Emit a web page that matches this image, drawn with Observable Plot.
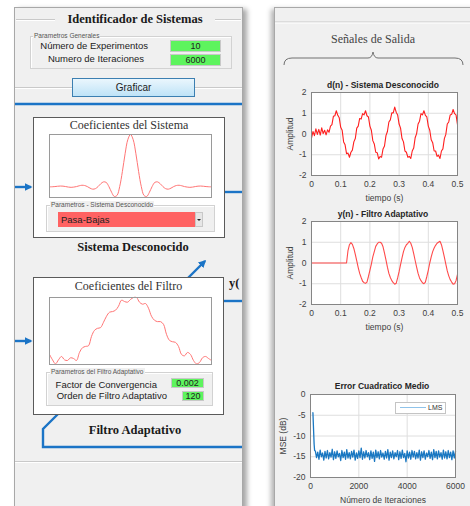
<!DOCTYPE html>
<html><head><meta charset="utf-8">
<script src="https://cdn.jsdelivr.net/npm/d3@7"></script>
<script src="https://cdn.jsdelivr.net/npm/@observablehq/plot@0.6"></script>
<style>
body{margin:0;width:470px;height:506px;overflow:hidden;background:#fff;position:relative;font-family:"Liberation Sans",Arial,sans-serif;color:#222}
.abs{position:absolute}
.serif{font-family:"Liberation Serif","Times New Roman",serif}
.panel{position:absolute;background:#f0f0f0;border:1px solid #a8a8a8;box-sizing:border-box}
.hline{position:absolute;height:1px;background:#c9c9c9;border-bottom:1px solid #fff}
.group{position:absolute;border:1px solid #d2d2d2;box-shadow:inset 1px 1px 0 #fff;box-sizing:border-box}
.glabel{position:absolute;font-size:6.5px;color:#555;background:#f0f0f0;padding:0 1px;line-height:7px}
.lbl{position:absolute;font-size:9.5px;line-height:11px;white-space:nowrap;color:#222}
.green{position:absolute;background:#5ef45e;border:1px solid #c8c8c8;box-sizing:border-box;font-size:9px;text-align:center;color:#222}
.box{position:absolute;background:#fff;border:1.5px solid #5a5a5a;box-sizing:border-box}
.ctitle{position:absolute;font-size:8.5px;font-weight:bold;text-align:center;color:#262626;white-space:nowrap;line-height:10px}
.plotwrap{position:absolute}
</style></head><body>

<!-- panels -->
<div class="panel" style="left:14px;top:7px;width:229px;height:520px;box-shadow:4px 2px 5px rgba(0,0,0,0.35)"></div>
<div class="panel" style="left:274px;top:7px;width:210px;height:520px;box-shadow:-3px 2px 5px rgba(0,0,0,0.3)"></div>

<!-- left panel header -->
<div class="hline" style="left:16px;top:19px;width:225px"></div>
<div class="abs serif" style="left:55px;top:11px;width:160px;text-align:center;font-size:12.5px;font-weight:bold;background:#f0f0f0;line-height:16px;color:#1a1a1a">Identificador de Sistemas</div>

<div class="group" style="left:30px;top:36px;width:202px;height:33px"></div>
<div class="glabel" style="left:33px;top:32px">Parametros Generales</div>
<div class="lbl" style="left:30px;top:40px;width:118px;text-align:right">Número de Experimentos</div>
<div class="green" style="left:170px;top:40px;width:51px;height:12px;line-height:11px">10</div>
<div class="lbl" style="left:30px;top:53px;width:114px;text-align:right">Numero de Iteraciones</div>
<div class="green" style="left:170px;top:54px;width:51px;height:12px;line-height:11px">6000</div>

<div class="hline" style="left:15px;top:87px;width:227px"></div>
<div class="abs" style="left:72px;top:78px;width:123px;height:19px;box-sizing:border-box;border:1px solid #3c7fb1;background:linear-gradient(#eaf6fd,#bfe3f7);font-size:10px;text-align:center;line-height:17px;color:#222">Graficar</div>

<!-- diagram lines -->
<svg class="abs" style="left:0;top:0" width="470" height="506">
 <defs><marker id="ah" viewBox="0 0 10 10" refX="8" refY="5" markerWidth="3.2" markerHeight="3.2" orient="auto"><path d="M0,0L10,5L0,10z" fill="#1b74c6"/></marker></defs>
 <g stroke="#1b74c6" fill="none" stroke-width="2.4">
  <line x1="15" y1="104" x2="242" y2="104"/>
  <line x1="15" y1="187" x2="31" y2="187" marker-end="url(#ah)"/>
  <line x1="224" y1="192" x2="242" y2="192"/>
  <line x1="188" y1="278" x2="205" y2="261" marker-end="url(#ah)"/>
  <line x1="223" y1="301" x2="242" y2="301"/>
  <line x1="15" y1="341" x2="31" y2="341" marker-end="url(#ah)"/>
  <polyline points="58,414 43,429 43,447 242,447"/>
 </g>
 <path d="M284,65 Q284,58 292,58 L368,58 Q372,58 373,52 Q374,58 378,58 L455,58 Q463,58 463,65" stroke="#707070" stroke-width="1" fill="none"/>
 <line x1="275" y1="22" x2="470" y2="22" stroke="#c9c9c9"/>
 <line x1="275" y1="23" x2="470" y2="23" stroke="#fff"/>
</svg>

<!-- Sistema box -->
<div class="box" style="left:33px;top:117px;width:192px;height:121px"></div>
<div class="abs serif" style="left:33px;top:118px;width:192px;text-align:center;font-size:12px;color:#333;line-height:15px">Coeficientes del Sistema</div>
<div id="sysplot" class="plotwrap" style="left:49px;top:134px"></div>
<div class="group" style="left:46px;top:205px;width:169px;height:27px;background:#f0f0f0"></div>
<div class="glabel" style="left:50px;top:201px">Parametros - Sistema Desconocido</div>
<div class="abs" style="left:58px;top:212px;width:137px;height:15px;background:#ff6262;font-size:9.5px;line-height:15px;padding-left:3px;box-sizing:border-box;color:#222">Pasa-Bajas</div>
<div class="abs" style="left:195px;top:212px;width:8px;height:15px;background:#e6e6e6;border:1px solid #c8c8c8;box-sizing:border-box"></div>
<div class="abs" style="left:197px;top:219px;width:0;height:0;border-left:2px solid transparent;border-right:2px solid transparent;border-top:2px solid #222"></div>
<div class="abs serif" style="left:33px;top:239px;width:200px;text-align:center;font-size:12.5px;font-weight:bold;line-height:16px;color:#1a1a1a">Sistema Desconocido</div>

<div class="abs serif" style="left:229px;top:275px;font-size:12.5px;font-weight:bold;line-height:16px;white-space:nowrap;color:#1a1a1a">y(</div>

<!-- Filtro box -->
<div class="box" style="left:33px;top:277px;width:191px;height:138px"></div>
<div class="abs serif" style="left:33px;top:279px;width:191px;text-align:center;font-size:12px;color:#333;line-height:15px">Coeficientes del Filtro</div>
<div id="filplot" class="plotwrap" style="left:49px;top:297px"></div>
<div class="group" style="left:46px;top:372px;width:167px;height:34px;background:#f0f0f0"></div>
<div class="glabel" style="left:50px;top:368px">Parametros del Filtro Adaptativo</div>
<div class="lbl" style="left:40px;top:379px;width:117px;text-align:right">Factor de Convergencia</div>
<div class="green" style="left:171px;top:378px;width:33px;height:10px;line-height:9px">0.002</div>
<div class="lbl" style="left:40px;top:390px;width:127px;text-align:right">Orden de Filtro Adaptativo</div>
<div class="green" style="left:182px;top:391px;width:22px;height:10px;line-height:9px">120</div>
<div class="abs serif" style="left:35px;top:422px;width:200px;text-align:center;font-size:12.5px;font-weight:bold;line-height:16px;color:#1a1a1a">Filtro Adaptativo</div>
<div class="hline" style="left:15px;top:461px;width:227px"></div>

<!-- right panel -->
<div class="abs serif" style="left:274px;top:32px;width:198px;text-align:center;font-size:12px;color:#444;line-height:15px">Señales de Salida</div>
<div class="ctitle" style="left:300px;top:80px;width:166px">d(n) - Sistema Desconocido</div>
<div id="dplot" class="plotwrap" style="left:274px;top:78px"></div>
<div class="ctitle" style="left:300px;top:209px;width:166px">y(n) - Filtro Adaptativo</div>
<div id="yplot" class="plotwrap" style="left:274px;top:207px"></div>
<div class="ctitle" style="left:300px;top:381px;width:164px">Error Cuadratico Medio</div>
<div id="mseplot" class="plotwrap" style="left:274px;top:380px"></div>
<div class="abs" style="left:395px;top:402px;width:51px;height:12px;background:#fff;border:1px solid #c4c4c4;box-sizing:border-box"></div>
<div class="abs" style="left:400px;top:407px;width:26px;height:1px;background:#8fc3ea"></div>
<div class="abs" style="left:428px;top:403px;font-size:7px;line-height:10px;color:#333">LMS</div>

<script>
// ---------- data ----------
const sysCoef = [-0.005,-0.004,0,0.006,0.01,0.008,0,-0.01,-0.015,-0.01,
  0,0.015,0.025,0.02,0,-0.03,-0.05,-0.04,0,0.055,
  0.09,0.08,0,-0.11,-0.19,-0.17,0,0.29,0.63,0.90,
  1.0,
  0.90,0.63,0.29,0,-0.17,-0.19,-0.11,0,0.08,0.09,
  0.055,0,-0.04,-0.05,-0.03,0,0.02,0.025,0.015,0,
  -0.01,-0.015,-0.01,0,0.008,0.01,0.006,0,-0.004,-0.005];

const filCoef = [0.15,0.07,0.01,0.07,0.12,0.07,0.06,0.10,0.09,0.06,
  0.18,0.25,0.27,0.28,0.42,0.51,0.54,0.55,0.63,0.72,
  0.78,0.79,0.81,0.87,0.96,0.94,0.93,0.97,1.00,1.00,
  0.93,0.90,0.91,0.84,0.72,0.66,0.64,0.64,0.60,0.45,
  0.36,0.34,0.33,0.27,0.15,0.13,0.18,0.15,0.06,0.01,
  0.03,0.10,0.12,0.09,0.06];

const dt = 0.005; // s between samples
const dSignal = [-0.2,0.12,-0.08,0.25,-0.02,0.22,-0.05,0.3,0.02,0.18,
  -0.04,0.2,0.08,0.38,0.45,0.85,0.88,1.12,0.9,0.78,
  0.32,0.18,-0.38,-0.52,-0.95,-0.92,-1.12,-0.88,-0.78,-0.38,
  -0.22,0.28,0.38,0.75,0.72,0.98,0.92,1.12,0.88,0.82,
  0.38,0.18,-0.32,-0.48,-0.88,-0.9,-1.2,-1.08,-1.12,-0.72,
  -0.58,-0.08,0.12,0.58,0.68,1.02,1.02,1.3,1.05,0.92,
  0.48,0.28,-0.22,-0.38,-0.82,-0.88,-1.12,-1.08,-1.18,-0.82,
  -0.68,-0.18,0.02,0.48,0.62,0.98,0.92,1.12,0.9,0.82,
  0.38,0.18,-0.28,-0.42,-0.82,-0.82,-1.08,-1.02,-1.18,-0.82,
  -0.72,-0.22,-0.02,0.48,0.58,0.92,0.95,1.18,0.98,0.92,
  0.45];

const ySignal = [0,0,0,0,0,0,0,0,0,0,
  0,0,0,0,0,0,0,0,0,0,
  0,0,0,0,0,0.6,0.88,0.98,0.9,0.7,
  0.42,0.1,-0.22,-0.5,-0.7,-0.88,-0.95,-0.98,-0.92,-0.65,
  -0.35,-0.05,0.3,0.55,0.8,0.92,1.0,1.0,0.95,0.78,
  0.48,0.15,-0.2,-0.5,-0.7,-0.85,-0.95,-1.02,-0.98,-0.72,
  -0.42,-0.08,0.25,0.55,0.75,0.88,0.95,1.05,0.95,0.75,
  0.45,0.12,-0.2,-0.5,-0.72,-0.85,-0.95,-1.0,-0.92,-0.65,
  -0.35,0.0,0.3,0.55,0.72,0.85,0.95,1.0,1.05,0.88,
  0.6,0.28,-0.05,-0.38,-0.62,-0.8,-0.92,-1.02,-1.0,-0.85,
  -0.55];

const mseIterHead = [100,130,150,170];
const mseHead = [-4.4,-9.0,-12.0,-13.5];
const mseStart = 200, mseStep = 50;
const mseBand = [-13.6,-15.2,-13.9,-15.6,-13.4,-15.0,-14.1,-15.8,-13.7,-15.3,
  -13.5,-15.5,-14.0,-15.1,-13.2,-15.7,-13.8,-15.4,-13.6,-15.0,
  -14.2,-15.9,-13.5,-15.2,-13.9,-15.6,-13.3,-15.3,-14.0,-15.5,
  -13.7,-15.1,-13.4,-15.8,-14.1,-15.4,-13.6,-15.2,-12.9,-15.6,
  -13.8,-15.3,-13.5,-15.0,-14.0,-15.7,-13.6,-15.4,-13.9,-16.1,
  -13.4,-15.2,-13.8,-15.5,-13.5,-15.1,-14.1,-15.6,-13.7,-15.3,
  -13.3,-15.8,-13.9,-15.2,-13.6,-15.5,-14.0,-15.0,-13.5,-15.7,
  -13.8,-15.4,-13.4,-15.2,-14.2,-16.2,-13.6,-15.3,-13.9,-15.6,
  -13.5,-15.1,-13.7,-15.5,-14.0,-15.3,-13.4,-15.8,-13.8,-15.2,
  -13.6,-15.6,-14.1,-15.0,-13.5,-15.4,-13.9,-15.7,-13.3,-15.2,
  -13.7,-15.5,-13.6,-15.1,-14.0,-15.6,-13.4,-15.3,-13.8,-15.5,
  -13.5,-15.2,-13.9,-15.7,-13.6,-15.3,-13.7];

const tTicks = [0,0.1,0.2,0.3,0.4,0.5];
const ampTicks = [-2,-1,0,1,2];
const iterTicks = [0,2000,4000,6000];
const mseTicks = [-20,-15,-10,-5,0];

// ---------- charts ----------
const font = "Liberation Sans, Arial, sans-serif";
const st = {fontFamily: font, fontSize: "8.5px", color: "#404040", background: "transparent", overflow: "visible"};

function coefPlot(vals, ydom, h) {
  const data = vals.map((v, i) => ({i, v}));
  return Plot.plot({
    width: 162, height: h, margin: 0,
    style: {background: "white", overflow: "visible"},
    x: {domain: [0, vals.length - 1], axis: null},
    y: {domain: ydom, axis: null},
    marks: [
      Plot.line(data, {x: "i", y: "v", stroke: "#ff7575", strokeWidth: 1, curve: "catmull-rom"}),
      Plot.frame({stroke: "#9a9a9a"})
    ]
  });
}
document.getElementById("sysplot").appendChild(coefPlot(sysCoef, [-0.21, 1.0], 63));
document.getElementById("filplot").appendChild(coefPlot(filCoef, [0, 1.0], 67));

function sigPlot(vals, color) {
  const data = vals.map((v, i) => ({t: i * dt, v}));
  return Plot.plot({
    width: 196, height: 127, marginLeft: 37, marginRight: 13, marginTop: 14, marginBottom: 30,
    style: st,
    x: {domain: [0, 0.5]},
    y: {domain: [-2, 2]},
    marks: [
      Plot.frame({fill: "white"}),
      Plot.gridX(tTicks, {stroke: "#dedede", strokeOpacity: 1}),
      Plot.gridY(ampTicks, {stroke: "#dedede", strokeOpacity: 1}),
      Plot.line(data, {x: "t", y: "v", stroke: color, strokeWidth: 1.1}),
      Plot.frame({stroke: "#858585"}),
      Plot.axisX(tTicks, {tickSize: 0, tickPadding: 5, tickFormat: d => String(d), label: "tiempo (s)", labelAnchor: "center", labelArrow: "none", labelOffset: 25}),
      Plot.axisY(ampTicks, {tickSize: 0, tickPadding: 5, tickFormat: d => String(d), label: "Amplitud", labelAnchor: "center", labelArrow: "none", labelOffset: 25})
    ]
  });
}
document.getElementById("dplot").appendChild(sigPlot(dSignal, "#ff1e1e"));
document.getElementById("yplot").appendChild(sigPlot(ySignal, "#ff4a4a"));

const mseData = [
  ...mseIterHead.map((n, i) => ({n, v: mseHead[i]})),
  ...mseBand.map((v, i) => ({n: mseStart + i * mseStep, v}))
];
document.getElementById("mseplot").appendChild(Plot.plot({
  width: 196, height: 127, marginLeft: 36, marginRight: 15, marginTop: 14, marginBottom: 30,
  style: st,
  x: {domain: [0, 6000]},
  y: {domain: [-20, 0]},
  marks: [
    Plot.frame({fill: "white"}),
    Plot.gridX(iterTicks, {stroke: "#dedede", strokeOpacity: 1}),
    Plot.gridY(mseTicks, {stroke: "#dedede", strokeOpacity: 1}),
    Plot.line(mseData, {x: "n", y: "v", stroke: "#1a78c2", strokeWidth: 1.3}),
    Plot.frame({stroke: "#858585"}),
    Plot.axisX(iterTicks, {tickSize: 0, tickPadding: 5, tickFormat: d => String(d), label: "Número de Iteraciones", labelAnchor: "center", labelArrow: "none", labelOffset: 25}),
    Plot.axisY(mseTicks, {tickSize: 0, tickPadding: 5, tickFormat: d => String(d), label: "MSE (dB)", labelAnchor: "center", labelArrow: "none", labelOffset: 31})
  ]
}));
</script>
</body></html>
